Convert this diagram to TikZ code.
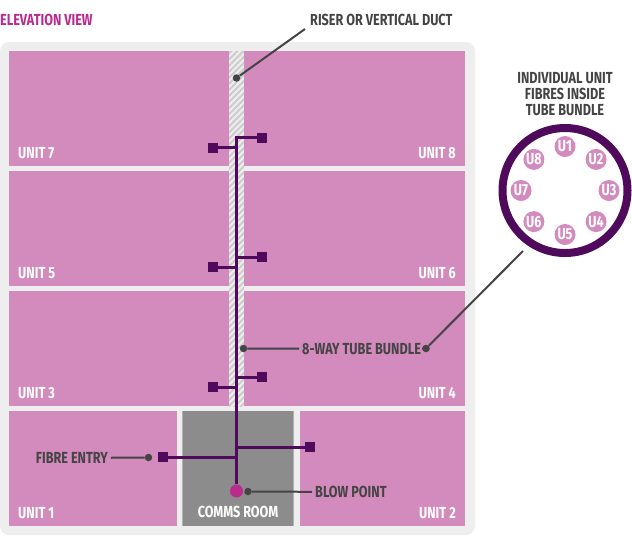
\documentclass[tikz,border=0pt]{standalone}
\usepackage{fontspec}
\setmainfont{Fira Sans}[FakeStretch=0.79,UprightFont=* Bold,BoldFont=* Bold]
\usepackage{tikz}
\usetikzlibrary{positioning, patterns.meta}
\definecolor{panelgray}{HTML}{EEEEEE}
\definecolor{unitpink}{HTML}{D38ABD}
\definecolor{tubepurple}{HTML}{4F0A5C}
\definecolor{blowpink}{HTML}{B92B8F}
\definecolor{leadgray}{HTML}{444444}
\definecolor{roomgray}{HTML}{8C8C8C}

\begin{document}
\begin{tikzpicture}[x=1pt,y=-1pt]
\tikzset{unit/.style={rectangle, fill=unitpink, inner sep=0pt, minimum height=115pt},
  unitlabel/.style={text=white, font=\fontsize{16}{16}\selectfont, inner sep=0pt},
  note/.style={text=leadgray, font=\fontsize{16}{16}\selectfont, inner sep=3pt},
  port/.style={rectangle, fill=tubepurple, inner sep=0pt, minimum size=10pt},
  tube/.style={draw=tubepurple, line width=3pt},
  dot/.style={circle, fill=leadgray, inner sep=0pt, minimum size=7.5pt},
  leader/.style={draw=leadgray, line width=2pt},
  fibre/.style={circle, fill=unitpink, inner sep=0pt, minimum size=21pt, text=white, font=\fontsize{16}{16}\selectfont}}
\useasboundingbox (0,0) rectangle (632,550);
\fill[panelgray, rounded corners=9pt] (0,42) rectangle (475,535);
% units
\node[unit, minimum width=220pt] (U7) at (119,108.5) {};
\node[unit, minimum width=221pt] (U8) at (354.5,108.5) {};
\node[unit, minimum width=220pt] (U5) at (119,228.5) {};
\node[unit, minimum width=221pt] (U6) at (354.5,228.5) {};
\node[unit, minimum width=220pt] (U3) at (119,348.5) {};
\node[unit, minimum width=221pt] (U4) at (354.5,348.5) {};
\node[unit, minimum width=168pt] (U1) at (93,468.5) {};
\node[unit, minimum width=165pt] (U2) at (382.5,468.5) {};
\node[unit, minimum width=110pt, fill=roomgray] (CR) at (238,468.5) {};
\draw[gray!60, line width=.8pt] (CR.north west) -- (CR.south west) (CR.north east) -- (CR.south east);
\node[rectangle, inner sep=0pt, minimum width=15pt, minimum height=355pt, fill=panelgray,
  postaction={pattern={Lines[angle=45, distance=4.3pt, line width=2pt]}, pattern color=gray!40}] (DUCT) at (236.5,228.5) {};
% unit names
\node[unitlabel, anchor=west] (N7) at (18,153) {UNIT 7};
\node[unitlabel, anchor=east] (N8) at (456,153) {UNIT 8};
\node[unitlabel, anchor=west] (N5) at (18,273) {UNIT 5};
\node[unitlabel, anchor=east] (N6) at (456,273) {UNIT 6};
\node[unitlabel, anchor=west] (N3) at (18,393) {UNIT 3};
\node[unitlabel, anchor=east] (N4) at (456,393) {UNIT 4};
\node[unitlabel, anchor=west] (N1) at (18,513) {UNIT 1};
\node[unitlabel, anchor=east] (N2) at (456,513) {UNIT 2};
\node[unitlabel] (NR) at (238,512) {COMMS ROOM};
% tube bundle
\coordinate (TOP) at (236.5,136);
\node[port] (P8) at (262,137.5) {};
\node[port] (P7) at (213,147.5) {};
\node[port] (P6) at (262,257) {};
\node[port] (P5) at (213,267) {};
\node[port] (P4) at (262,377) {};
\node[port] (P3) at (213,387) {};
\node[port] (P2) at (310,447) {};
\node[port] (P1) at (163,457) {};
\node[circle, fill=blowpink, inner sep=0pt, minimum size=13pt] (BP) at (236.5,491) {};
\draw[tube] (TOP) -- (BP);
\foreach \p in {P1,P2,P3,P4,P5,P6,P7,P8} \draw[tube] (\p) -- (\p -| BP);
% callouts
\node[text=blowpink, font=\fontsize{16}{16}\selectfont, inner sep=0pt, anchor=west] (TITLE) at (0,20) {ELEVATION VIEW};
\node[note, anchor=west] (LR) at (307,20) {RISER OR VERTICAL DUCT};
\coordinate (ER) at (305,29);
\node[dot] (DR) at (236.5,78) {};
\draw[leader] (DR) -- (ER);
\node[note, anchor=west] (LT) at (299,349) {8-WAY TUBE BUNDLE};
\node[dot] (DT) at (243.5,348.5) {};
\node[dot] (DC) at (426,348.5) {};
\coordinate (EC) at (523,251);
\draw[leader] (DT) -- (LT);
\draw[leader] (LT) -- (DC);
\draw[leader] (DC) -- (EC);
\node[note, anchor=east] (LF) at (111,458) {FIBRE ENTRY};
\node[dot] (DF) at (148.5,457.5) {};
\draw[leader] (LF) -- (DF);
\node[note, anchor=west] (LB) at (312,492) {BLOW POINT};
\node[dot] (DB) at (248,491.5) {};
\draw[leader] (DB) -- (LB);
% cross section
\node[note, align=center, inner sep=0pt] (LI) at (565,94) {INDIVIDUAL UNIT\\FIBRES INSIDE\\TUBE BUNDLE};
\node[circle, draw=tubepurple, line width=8pt, inner sep=0pt, minimum size=125pt] (RING) at (565,190.5) {};
\foreach \n/\a in {1/90,2/45,3/0,4/-45,5/-90,6/-135,7/180,8/135}
  \node[fibre] (F\n) at ([shift={(\a:44pt)}]RING.center) {U\n};
\end{tikzpicture}
\end{document}
